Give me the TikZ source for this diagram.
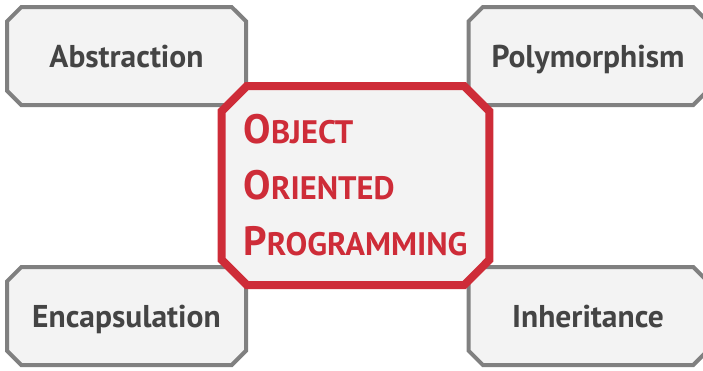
\documentclass[tikz,border=0pt]{standalone}
\usepackage{fontspec}
\setmainfont{PT Sans}
\usetikzlibrary{shapes.misc}
\definecolor{oopred}{RGB}{206,44,56}
\definecolor{boxgray}{RGB}{128,128,128}
\definecolor{textgray}{RGB}{68,68,68}
\definecolor{boxfill}{RGB}{243,243,243}
\newcommand{\bigsc}[2]{#1{\fontsize{32.5}{56}\selectfont #2}}
\begin{document}
\begin{tikzpicture}[x=1pt,y=-1pt,
    concept/.style={chamfered rectangle, chamfered rectangle xsep=18pt,
      draw=boxgray, line width=4pt, fill=boxfill, text=textgray,
      minimum width=239pt, minimum height=98pt, inner sep=0pt,
      text height=22pt, text depth=0pt,
      font=\fontsize{31.5}{36}\selectfont\bfseries},
    core/.style={chamfered rectangle, chamfered rectangle xsep=22pt,
      draw=oopred, line width=8pt, fill=boxfill, text=oopred,
      minimum width=259pt, minimum height=199pt, inner sep=0pt,
      align=left, font=\fontsize{41}{56}\selectfont\bfseries}]
  \useasboundingbox (0,0) rectangle (703,370);
  \node[concept] (abstraction) at (126.5,56) {Abstraction};
  \node[concept] (polymorphism) at (588,56) {Polymorphism};
  \node[concept] (encapsulation) at (126.5,316) {Encapsulation};
  \node[concept] (inheritance) at (588,316) {Inheritance};
  \node[core] (oop) at (355.5,185.5)
    {\bigsc{O}{BJECT}\\ \bigsc{O}{RIENTED}\\ \bigsc{P}{ROGRAMMING}};
\end{tikzpicture}
\end{document}
